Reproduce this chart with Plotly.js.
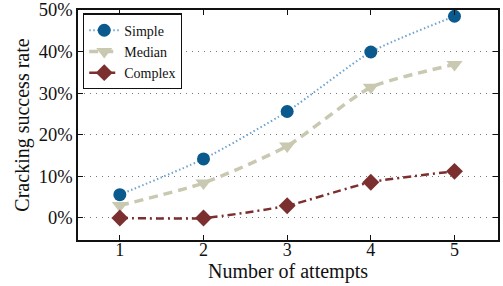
<!DOCTYPE html>
<html><head><meta charset="utf-8">
<script src="https://cdn.plot.ly/plotly-3.0.1.min.js"></script>
<style>html,body{margin:0;padding:0;background:#fff}</style>
</head><body>
<div id="chart" style="width:503px;height:286px"></div>
<script>
var attempts = [1, 2, 3, 4, 5];
var simple = [5.6, 14.2, 25.6, 39.9, 48.5];
var median = [3.0, 8.4, 17.3, 31.4, 36.9];
var complex = [0, 0, 2.95, 8.6, 11.2];
var yTicks = [0, 10, 20, 30, 40, 50];
var yTickText = ['0%', '10%', '20%', '30%', '40%', '50%'];

var font = 'Liberation Serif, Times New Roman, serif';
var traces = [
  {x: attempts, y: simple, name: 'Simple', mode: 'lines+markers',
   line: {color: '#6fa3cf', width: 2, dash: '1.5px,2.5px', shape: 'spline', smoothing: 0.6},
   marker: {color: '#0b5a8e', size: 13, symbol: 'circle'}},
  {x: attempts, y: median, name: 'Median', mode: 'lines+markers',
   line: {color: '#c9c8b0', width: 3.5, dash: '9px,6px', shape: 'spline', smoothing: 0.6},
   marker: {color: '#c9c8b0', size: 14, symbol: 'triangle-down'}},
  {x: attempts, y: complex, name: 'Complex', mode: 'lines+markers',
   line: {color: '#7b2f2f', width: 2.5, dash: '8px,4px,2px,4px', shape: 'spline', smoothing: 0.6},
   marker: {color: '#7b2f2f', size: 13, symbol: 'diamond'}}
];
var layout = {
  width: 503, height: 286,
  margin: {l: 78, r: 5, t: 10, b: 46},
  paper_bgcolor: '#fff', plot_bgcolor: '#fff',
  font: {family: font, size: 16, color: '#111'},
  showlegend: true,
  legend: {x: 0.012, y: 0.985, xanchor: 'left', yanchor: 'top',
           bordercolor: '#111', borderwidth: 1.2, bgcolor: '#fff',
           font: {family: font, size: 14}, tracegroupgap: 0, itemwidth: 30},
  xaxis: {range: [0.5, 5.52], tickvals: attempts, ticktext: attempts.map(String),
          ticks: 'inside', ticklen: 5, tickcolor: '#111', showline: true, linecolor: '#111',
          linewidth: 1.5, mirror: 'ticks', showgrid: false, zeroline: false,
          ticklabelstandoff: -7,
          title: {text: 'Number of attempts', font: {family: font, size: 20}, standoff: 0},
          tickfont: {family: font, size: 18}},
  yaxis: {range: [-5.3, 50], tickvals: yTicks, ticktext: yTickText,
          ticks: 'inside', ticklen: 5, tickcolor: '#111', showline: true, linecolor: '#111',
          linewidth: 1.5, mirror: 'ticks', showgrid: true, gridcolor: '#777',
          griddash: '1px,5px', gridwidth: 1, zeroline: false,
          title: {text: 'Cracking success rate', font: {family: font, size: 20}, standoff: 4},
          tickfont: {family: font, size: 18.5}}
};
Plotly.newPlot('chart', traces, layout, {displayModeBar: false});
</script>
</body></html>
